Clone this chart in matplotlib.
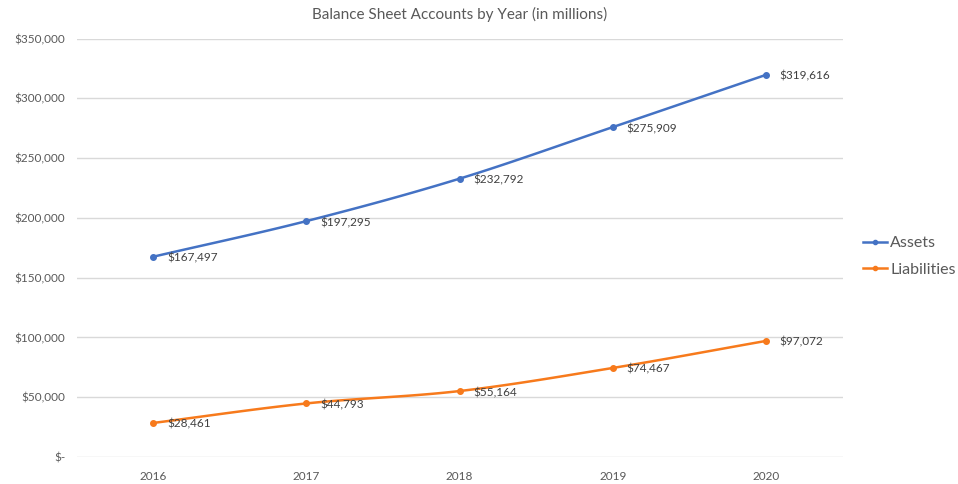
import matplotlib
matplotlib.use("Agg")
import matplotlib.pyplot as plt
from matplotlib.ticker import FuncFormatter, MultipleLocator
import numpy as np

plt.rcParams['font.family'] = ['Lato', 'DejaVu Sans']

years = ['2016', '2017', '2018', '2019', '2020']
assets = [167497, 197295, 232792, 275909, 319616]
liabilities = [28461, 44793, 55164, 74467, 97072]

blue = '#4472C4'
orange = '#F77A1C'
grey = '#595959'


def smooth(x, y, n=30):
    # Catmull-Rom style curve through the points (like Excel "smoothed line")
    x = np.asarray(x, float)
    y = np.asarray(y, float)
    px = np.concatenate([[2 * x[0] - x[1]], x, [2 * x[-1] - x[-2]]])
    py = np.concatenate([[2 * y[0] - y[1]], y, [2 * y[-1] - y[-2]]])
    t = np.linspace(0, 1, n)
    xs, ys = [], []
    for i in range(1, len(px) - 2):
        for p, out in ((px, xs), (py, ys)):
            p0, p1, p2, p3 = p[i - 1], p[i], p[i + 1], p[i + 2]
            out.extend(0.5 * ((2 * p1) + (-p0 + p2) * t
                              + (2 * p0 - 5 * p1 + 4 * p2 - p3) * t ** 2
                              + (-p0 + 3 * p1 - 3 * p2 + p3) * t ** 3))
    return xs, ys


fig = plt.figure(figsize=(9.58, 4.84), dpi=100)
ax = fig.add_axes([0.0799, 0.0558, 0.7996, 0.8646])

x = np.arange(len(years))
for vals, col, name in ((assets, blue, 'Assets'), (liabilities, orange, 'Liabilities')):
    sx, sy = smooth(x, vals)
    ax.plot(sx, sy, color=col, lw=1.8, solid_capstyle='round')
    ax.plot(x, vals, 'o', color=col, ms=4)
    ax.plot([], [], '-o', color=col, lw=1.8, ms=3, label=name)
    for xi, v in zip(x, vals):
        ax.annotate('${:,}'.format(v), (xi, v), xytext=(10, -1),
                    textcoords='offset points', va='center', ha='left',
                    fontsize=8.5, color='#404040')

ax.set_xlim(-0.5, len(years) - 0.5)
ax.set_ylim(0, 350000)
ax.set_xticks(x)
ax.set_xticklabels(years)
ax.yaxis.set_major_locator(MultipleLocator(50000))
ax.yaxis.set_major_formatter(FuncFormatter(
    lambda v, p: '$-' if v == 0 else '${:,.0f}'.format(v)))
ax.grid(axis='y', color='#D9D9D9', lw=1)
ax.set_axisbelow(True)
for s in ax.spines.values():
    s.set_visible(False)
ax.tick_params(length=0, labelsize=8.5, colors=grey, pad=8)
ax.tick_params(axis='x', pad=10)

ax.set_title('Balance Sheet Accounts by Year (in millions)', fontsize=11,
             color=grey, pad=14)

fig.legend(loc='center left', bbox_to_anchor=(0.886, 0.47), frameon=False,
           fontsize=11.5, handlelength=1.5, handletextpad=0.2, labelspacing=0.8,
           labelcolor=grey)

fig.savefig('out.png', dpi=100)
